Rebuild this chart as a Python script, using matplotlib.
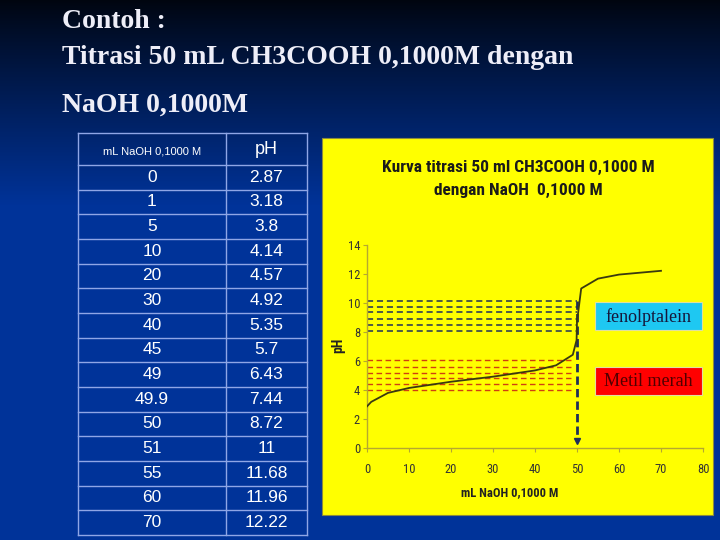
import numpy as np
import matplotlib
matplotlib.use("Agg")
import matplotlib.pyplot as plt
from matplotlib.patches import Rectangle
from matplotlib import font_manager

# ---- data ----
ml_naoh = [0, 1, 5, 10, 20, 30, 40, 45, 49, 49.9, 50, 51, 55, 60, 70]
ph_vals = [2.87, 3.18, 3.8, 4.14, 4.57, 4.92, 5.35, 5.7, 6.43, 7.44, 8.72, 11, 11.68, 11.96, 12.22]
pp_levels = [8.1, 8.5, 8.9, 9.35, 9.75, 10.15]      # fenolptalein range lines
mr_levels = [4.0, 4.4, 4.8, 5.2, 5.6, 6.05]        # metil merah range lines
equiv_ml = 50
x_ticks = [0, 10, 20, 30, 40, 50, 60, 70, 80]
y_ticks = [0, 2, 4, 6, 8, 10, 12, 14]
title_lines = ["Contoh :", "Titrasi 50 mL CH3COOH 0,1000M dengan", "NaOH 0,1000M"]
col_headers = ["mL NaOH 0,1000 M", "pH"]
chart_title = "Kurva titrasi 50 ml CH3COOH 0,1000 M\ndengan NaOH  0,1000 M"

# pick a condensed sans if one is installed
avail = {f.name for f in font_manager.fontManager.ttflist}
narrow_font = None
for cand in ["Liberation Sans Narrow", "Roboto Condensed", "Open Sans Condensed",
             "Noto Sans Condensed", "DejaVu Sans Condensed"]:
    if cand in avail:
        narrow_font = cand
        break
if narrow_font is None:
    narrow_font = "Liberation Sans"
    scale = 0.8
else:
    scale = 1.0
narrow = [narrow_font, "DejaVu Sans"]

W, H = 720, 540
fig = plt.figure(figsize=(7.2, 5.4), dpi=100)

# background overlay axes in pixel coords
bg = fig.add_axes([0, 0, 1, 1])
bg.set_xlim(0, W)
bg.set_ylim(H, 0)
bg.axis("off")
yy = np.linspace(0, 1, 540)
top = np.array([0.0, 0.02, 0.06])
bot = np.array([0.0, 0.20, 0.60])
t = np.clip(yy / 0.38, 0, 1) ** 0.9
grad = (top[None, :] * (1 - t[:, None]) + bot[None, :] * t[:, None])
grad = np.repeat(grad[:, None, :], 2, axis=1)
bg.imshow(grad, extent=[0, W, H, 0], aspect="auto", zorder=0)

# titles
tcol = "#eeeef8"
for txt, yc in zip(title_lines, [22, 57, 105]):
    bg.text(62, yc, txt, fontsize=20, fontweight="bold", family="Liberation Serif",
            color=tcol, va="center", ha="left")

# table
tx0, tx1, tx2 = 78, 226, 307
ty0, ty_h = 133, 165
row_h = (535 - ty_h) / len(ml_naoh)
lc = "#8fa6e6"
ys = [ty0, ty_h] + [ty_h + row_h * (i + 1) for i in range(len(ml_naoh))]
for y in ys:
    bg.plot([tx0, tx2], [y, y], color=lc, lw=1, zorder=2)
for x in (tx0, tx1, tx2):
    bg.plot([x, x], [ty0, ys[-1]], color=lc, lw=1, zorder=2)
bg.text((tx0 + tx1) / 2, (ty0 + ty_h) / 2 + 2, col_headers[0], fontsize=8, family="Liberation Sans",
        color="white", ha="center", va="center")
bg.text((tx1 + tx2) / 2, (ty0 + ty_h) / 2 + 1, col_headers[1], fontsize=13, family="Liberation Sans",
        color="white", ha="center", va="center")
for i, (m, p) in enumerate(zip(ml_naoh, ph_vals)):
    yc = ty_h + row_h * (i + 0.5)
    bg.text((tx0 + tx1) / 2, yc, f"{m:g}", fontsize=12.5, family="Liberation Sans",
            color="white", ha="center", va="center")
    bg.text((tx1 + tx2) / 2, yc, f"{p:g}", fontsize=12.5, family="Liberation Sans",
            color="white", ha="center", va="center")

# yellow panel
bg.add_patch(Rectangle((322, 138), 713 - 322, 515 - 138, facecolor="#ffff00",
                       edgecolor="#8a8a40", lw=0.8, zorder=1))
bg.text(518, 179, chart_title, fontsize=12.5 * scale, fontweight="bold", family=narrow,
        color="#1a1a1a", ha="center", va="center", linespacing=1.7)

# indicator boxes
bg.add_patch(Rectangle((595, 302), 107, 28, facecolor="#1ec8f2", edgecolor="#e0e0a0", lw=0.8, zorder=3))
bg.text(648.5, 317, "fenolptalein", fontsize=13, family="Liberation Serif", color="#16163a",
        ha="center", va="center", zorder=4)
bg.add_patch(Rectangle((595, 367), 107, 28, facecolor="#ff0000", edgecolor="#e0e0a0", lw=0.8, zorder=3))
bg.text(648.5, 382, "Metil merah", fontsize=13, family="Liberation Serif", color="#500000",
        ha="center", va="center", zorder=4)

# chart axes
ax = fig.add_axes([367 / W, 1 - 448 / H, 336 / W, 203 / H])
ax.set_facecolor("none")
ax.set_xlim(0, 80)
ax.set_ylim(0, 14)
ax.set_xticks(x_ticks)
ax.set_yticks(y_ticks)
for s in ("top", "right"):
    ax.spines[s].set_visible(False)
for s in ("left", "bottom"):
    ax.spines[s].set_color("#b5a830")
    ax.spines[s].set_linewidth(1)
ax.tick_params(colors="#b5a830", length=3, width=0.8, labelcolor="#333333",
               labelsize=9 * scale)
ax.tick_params(axis="x", pad=8)
ax.tick_params(axis="y", pad=2)
for lab in ax.get_xticklabels() + ax.get_yticklabels():
    lab.set_family(narrow)
ax.set_xlabel("mL NaOH 0,1000 M", fontsize=9 * scale, fontweight="bold", family=narrow, color="#222222")
ax.set_ylabel("pH", fontsize=10 * scale, fontweight="bold", family=narrow, color="#222222")
ax.xaxis.set_label_coords(0.426, -0.187)
ax.yaxis.set_label_coords(-0.065, 0.507)

for lv in pp_levels:
    ax.plot([0, equiv_ml], [lv, lv], color="#1f2f5a", lw=1.1, dashes=(4, 2.5))
for lv in mr_levels:
    ax.plot([0, 48.5], [lv, lv], color="#d04010", lw=1.0, dashes=(4, 2.5))
ax.plot([equiv_ml, equiv_ml], [pp_levels[-1], 0.4], color="#1f2f5a", lw=2, dashes=(3, 1.5))
ax.plot([equiv_ml], [0.45], marker="v", color="#1f2f5a", markersize=5)

ax.plot(ml_naoh, ph_vals, color="#3a3a10", lw=1.3, zorder=5)

fig.savefig("out.png", dpi=100)
